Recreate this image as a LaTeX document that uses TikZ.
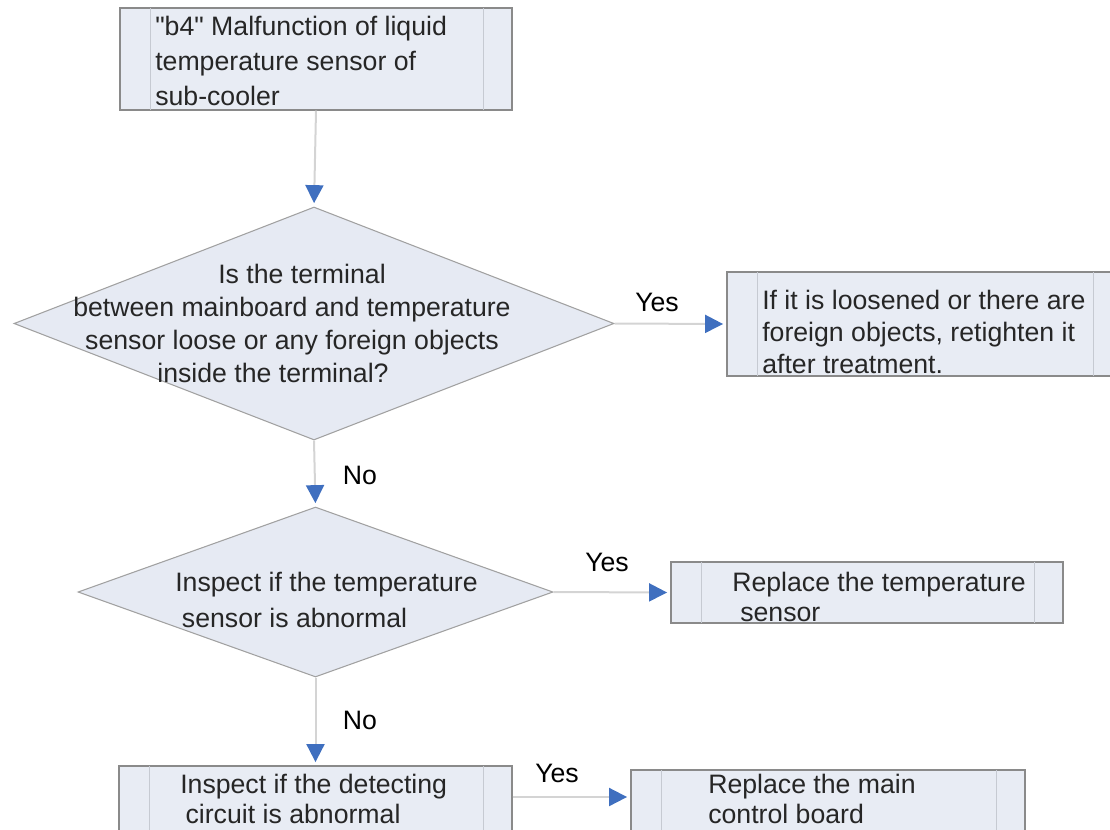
\documentclass[tikz,border=0pt]{standalone}
\usepackage{fontspec}
\setmainfont{Liberation Sans}
\usetikzlibrary{shapes.geometric,arrows.meta}
\definecolor{boxfill}{HTML}{E8ECF4}
\definecolor{diafill}{HTML}{E6EAF3}
\definecolor{boxline}{HTML}{8A8A8A}
\definecolor{innerline}{HTML}{C6CAD2}
\definecolor{connline}{HTML}{D4D4D4}
\definecolor{arrowblue}{HTML}{3F6FBF}
\definecolor{txt}{HTML}{262626}
\begin{document}
\begin{tikzpicture}[x=0.75pt,y=-0.75pt,
  procbox/.style={draw=boxline,line width=0.9pt,fill=boxfill,rectangle,inner sep=0pt},
  decbox/.style={draw=boxline!80,line width=0.8pt,fill=diafill,diamond,inner sep=0pt},
  innerbar/.style={draw=innerline,line width=0.9pt},
  boxtext/.style={font=\fontsize{20pt}{26pt}\selectfont,text=txt,align=left,inner sep=0pt,anchor=west},
  lbl/.style={font=\fontsize{20pt}{24pt}\selectfont,text=black,inner sep=0pt},
  conn/.style={draw=connline,line width=1.5pt,shorten >=2.5pt,
    -{Triangle[length=13.5pt,width=13.5pt,color=arrowblue]}}]
\useasboundingbox (0,0) rectangle (1110,829);
% boxes
\node[procbox,minimum width=294pt,minimum height=76.5pt] (b1) at (316,59) {};
\node[procbox,minimum width=296.25pt,minimum height=78pt] (b2) at (924.5,324) {};
\node[procbox,minimum width=294pt,minimum height=45.75pt] (b3) at (867,592.5) {};
\node[procbox,minimum width=294.75pt,minimum height=51.75pt] (b4) at (315.5,800.5) {};
\node[procbox,minimum width=295.5pt,minimum height=48.75pt] (b5) at (828,802.5) {};
\foreach \b in {b1,b2,b3,b4,b5}{
  \draw[innerbar] ([xshift=23.25pt,yshift=-0.6pt]\b.north west) -- ([xshift=23.25pt,yshift=0.6pt]\b.south west);
  \draw[innerbar] ([xshift=-21.75pt,yshift=-0.6pt]\b.north east) -- ([xshift=-21.75pt,yshift=0.6pt]\b.south east);
}
% diamonds
\node[decbox,minimum width=450pt,minimum height=174.75pt] (d1) at (314,323.5) {};
\node[decbox,minimum width=356.25pt,minimum height=127.5pt] (d2) at (315.5,592) {};
% texts
\node[boxtext,font=\fontsize{20pt}{26.25pt}\selectfont] (t1) at (155,61)
  {\textquotedbl b4\textquotedbl{} Malfunction of liquid\\temperature sensor of\\sub-cooler};
\node[boxtext,font=\fontsize{20pt}{24pt}\selectfont] (t2) at (762,332)
  {If it is loosened or there are\\foreign objects, retighten it\\after treatment.};
\node[boxtext,font=\fontsize{20pt}{22.5pt}\selectfont] (t3) at (732,597)
  {Replace the temperature\\\hspace*{6pt}sensor};
\node[boxtext,font=\fontsize{20pt}{22.5pt}\selectfont] (t4) at (180,799)
  {Inspect if the detecting\\\hspace*{4pt}circuit is abnormal};
\node[boxtext,font=\fontsize{20pt}{22.5pt}\selectfont] (t5) at (708,799)
  {Replace the main\\control board};
\node[boxtext,anchor=center,align=center,font=\fontsize{20pt}{24.75pt}\selectfont] (dt1) at (292,323)
  {\hspace*{15pt}Is the terminal\\between mainboard and temperature\\sensor loose or any foreign objects\\inside the terminal?\hspace*{28.5pt}};
\node[boxtext,font=\fontsize{20pt}{27pt}\selectfont] (dt2) at (175,600)
  {Inspect if the temperature\\\hspace*{5pt}sensor is abnormal};
% connectors
\coordinate (lastrow) at (0,797);
\draw[conn] (b1.south) -- (d1.north);
\draw[conn] (d1.east) -- (b2.west);
\draw[conn] (d1.south) -- (d2.north);
\draw[conn] (d2.east) -- (b3.west);
\draw[conn] (d2.south) -- (b4.north);
\draw[conn] (b4.east |- lastrow) -- (b5.west |- lastrow);
% labels
\node[lbl] (y1) at (657,302) {Yes};
\node[lbl] (n1) at (360,475) {No};
\node[lbl] (y2) at (607,562) {Yes};
\node[lbl] (n2) at (360,720) {No};
\node[lbl] (y3) at (557,773) {Yes};
\end{tikzpicture}
\end{document}
